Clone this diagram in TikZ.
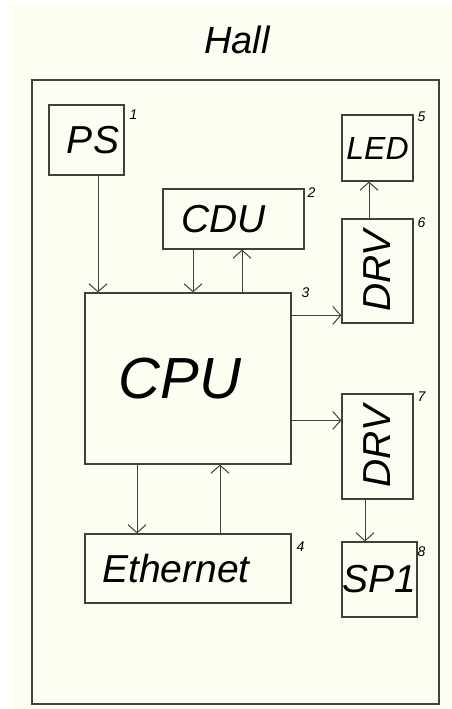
\documentclass[tikz,border=0pt]{standalone}
\usepackage{fontspec}
\setmainfont{Liberation Sans}
\usepackage{graphicx}
\usetikzlibrary{positioning,arrows.meta}
\definecolor{paper}{RGB}{253,253,242}
\definecolor{ink}{RGB}{64,64,60}

\begin{document}
\begin{tikzpicture}[
  x=1pt,y=-1pt,
  >={Straight Barb[length=8pt,width=18pt]},
  block/.style={draw=ink,line width=1.2pt,inner sep=0pt,
    font=\itshape\fontsize{39}{39}\selectfont},
  num/.style={inner sep=0pt,font=\itshape\fontsize{14}{14}\selectfont},
  flow/.style={->,draw=ink,line width=1pt}
]
  \useasboundingbox (0,0) rectangle (452,709);
  \fill[paper] (10,5) rectangle (452,709);

  \node[font=\itshape\fontsize{38}{38}\selectfont] (title) at (237,40) {Hall};
  \node[block,minimum width=407pt,minimum height=624pt] (hall) at (235.5,392) {};

  \node[block,minimum width=75pt,minimum height=70pt] (ps) at (86.5,140) {\hspace*{13pt}PS};
  \node[block,minimum width=141pt,minimum height=60pt] (cdu) at (233.5,219) {\hspace*{-20pt}CDU};
  \node[block,minimum width=71pt,minimum height=66pt,
    font=\itshape\fontsize{32}{32}\selectfont] (led) at (377.5,148) {LED};
  \node[block,minimum width=71pt,minimum height=104pt] (drvA) at (377.5,271)
    {\rotatebox{90}{DRV}};
  \node[block,minimum width=206pt,minimum height=171pt,
    font=\itshape\fontsize{58}{58}\selectfont] (cpu) at (188,378.5) {\hspace*{-16pt}CPU};
  \node[block,minimum width=71pt,minimum height=105pt] (drvB) at (377.5,446.5)
    {\rotatebox{90}{DRV}};
  \node[block,minimum width=206pt,minimum height=69pt] (eth) at (188,568.5) {\hspace*{-24pt}Ethernet};
  \node[block,minimum width=75pt,minimum height=75pt] (sp) at (379.5,579.5) {SP1};

  % block numbers
  \node[num] (n1) at ([shift={(9pt,-10pt)}]ps.north east) {1};
  \node[num] (n2) at ([shift={(7pt,-4pt)}]cdu.north east) {2};
  \node[num] (n3) at ([shift={(14pt,0pt)}]cpu.north east) {3};
  \node[num] (n4) at ([shift={(9pt,-13pt)}]eth.north east) {4};
  \node[num] (n5) at ([shift={(8pt,-2pt)}]led.north east) {5};
  \node[num] (n6) at ([shift={(8pt,-4pt)}]drvA.north east) {6};
  \node[num] (n7) at ([shift={(8pt,-3pt)}]drvB.north east) {7};
  \node[num] (n8) at ([shift={(4pt,-10pt)}]sp.north east) {8};

  \draw[flow] ([xshift=11.5pt]ps.south) -- ([xshift=11.5pt]ps.south |- cpu.north);
  \draw[flow] ([xshift=-40.5pt]cdu.south) -- ([xshift=-40.5pt]cdu.south |- cpu.north);
  \draw[flow] ([xshift=8.5pt]cdu.south |- cpu.north) -- ([xshift=8.5pt]cdu.south);
  \draw[flow] ([xshift=-8.5pt]drvA.north) -- ([xshift=-8.5pt]led.south);
  \draw[flow] ([yshift=-23pt]cpu.north east) -- ([yshift=-23pt]cpu.north east -| drvA.west);
  \draw[flow] ([yshift=-128pt]cpu.north east) -- ([yshift=-128pt]cpu.north east -| drvB.west);
  \draw[flow] ([xshift=-51pt]cpu.south) -- ([xshift=-51pt]eth.north);
  \draw[flow] ([xshift=32pt]eth.north) -- ([xshift=32pt]cpu.south);
  \draw[flow] ([xshift=-12.5pt]drvB.south) -- ([xshift=-14.5pt]sp.north);
\end{tikzpicture}
\end{document}
